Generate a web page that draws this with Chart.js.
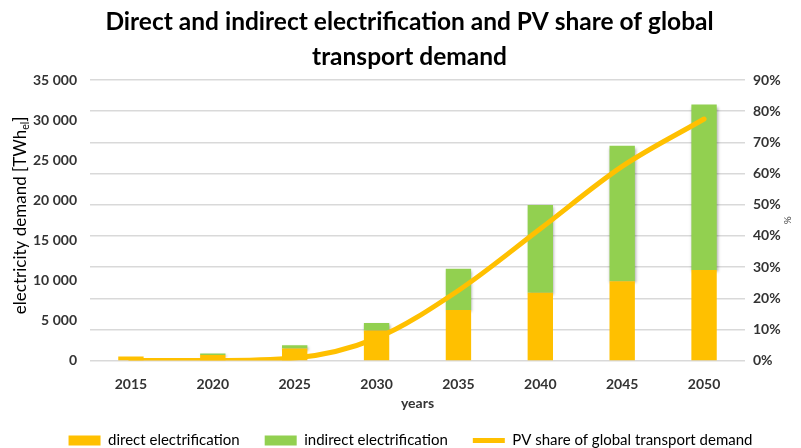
<!DOCTYPE html>
<html>
<head>
<meta charset="utf-8">
<script src="https://cdn.jsdelivr.net/npm/chart.js@4.4.1/dist/chart.umd.min.js"></script>
<style>
  html, body { margin: 0; padding: 0; background: #fff; }
  #wrap { width: 801px; height: 448px; }
</style>
</head>
<body>
<div id="wrap"><canvas id="chart"></canvas></div>
<script>
// données
const years = ['2015', '2020', '2025', '2030', '2035', '2040', '2045', '2050'];
const directElec = [500, 700, 1500, 3750, 6300, 8450, 9900, 11300];
const indirectElec = [0, 200, 400, 950, 5150, 10950, 16900, 20650];
const pvShare = [0, 0, 0.8, 7.2, 22.5, 42.3, 62.3, 77.5];
const leftTicks = [0, 5000, 10000, 15000, 20000, 25000, 30000, 35000];

const ORANGE = '#FFC000';
const GREEN = '#92D050';
const FONT = 'Lato, "Open Sans", sans-serif';

// titre de l'axe gauche avec indice "el" + titre "%" à droite
const axisTitles = {
    id: 'axisTitles',
    afterDraw(chart) {
        const ctx = chart.ctx;
        const area = chart.chartArea;
        ctx.save();
        ctx.translate(21, (area.top + area.bottom) / 2 - 5);
        ctx.rotate(-Math.PI / 2);
        ctx.fillStyle = '#000';
        ctx.textBaseline = 'middle';
        const main = 'electricity demand [TWh';
        ctx.font = '17px ' + FONT;
        const w1 = ctx.measureText(main).width;
        ctx.font = '10.5px ' + FONT;
        const w2 = ctx.measureText('el').width;
        ctx.font = '17px ' + FONT;
        const w3 = ctx.measureText(']').width;
        let x = -(w1 + w2 + w3) / 2;
        ctx.textAlign = 'left';
        ctx.fillText(main, x, 0);
        x += w1;
        ctx.font = '10.5px ' + FONT;
        ctx.fillText('el', x, 5);
        x += w2;
        ctx.font = '17px ' + FONT;
        ctx.fillText(']', x, 0);
        ctx.restore();

        ctx.save();
        ctx.translate(787, (area.top + area.bottom) / 2);
        ctx.rotate(Math.PI / 2);
        ctx.font = '10px ' + FONT;
        ctx.fillStyle = '#404040';
        ctx.textAlign = 'center';
        ctx.textBaseline = 'middle';
        ctx.fillText('%', 0, 0);
        ctx.restore();
    }
};

// décale un peu le titre et la légende vers la droite, comme sur l'original
const shiftBoxes = {
    id: 'shiftBoxes',
    afterLayout(chart) {
        if (chart.titleBlock) {
            chart.titleBlock.left += 9;
            chart.titleBlock.right += 9;
        }
        if (chart.legend) {
            chart.legend.left += 10;
            chart.legend.right += 10;
        }
    }
};

// ombre légère sous la courbe
const lineShadow = {
    id: 'lineShadow',
    beforeDatasetDraw(chart, args) {
        if (args.index !== 2) return;
        const ctx = chart.ctx;
        ctx.save();
        ctx.shadowColor = 'rgba(0,0,0,0.35)';
        ctx.shadowBlur = 3;
        ctx.shadowOffsetX = 1;
        ctx.shadowOffsetY = 2;
    },
    afterDatasetDraw(chart, args) {
        if (args.index !== 2) return;
        chart.ctx.restore();
    }
};

new Chart(document.getElementById('chart'), {
    data: {
        labels: years,
        datasets: [
            {
                type: 'line',
                label: 'PV share of global transport demand',
                data: pvShare,
                yAxisID: 'y1',
                borderColor: ORANGE,
                backgroundColor: ORANGE,
                borderWidth: 5,
                borderCapStyle: 'round',
                pointRadius: 0,
                pointStyle: 'line',
                cubicInterpolationMode: 'monotone',
                order: 0
            },
            {
                type: 'bar',
                label: 'direct electrification',
                data: directElec,
                yAxisID: 'y',
                backgroundColor: ORANGE,
                pointStyle: 'rect',
                categoryPercentage: 1,
                barPercentage: 0.31,
                order: 1
            },
            {
                type: 'bar',
                label: 'indirect electrification',
                data: indirectElec,
                yAxisID: 'y',
                backgroundColor: GREEN,
                pointStyle: 'rect',
                categoryPercentage: 1,
                barPercentage: 0.31,
                order: 1
            }
        ]
    },
    options: {
        responsive: true,
        maintainAspectRatio: false,
        animation: false,
        layout: { padding: { left: 0, right: 0, top: 0, bottom: -10 } },
        plugins: {
            title: {
                display: true,
                text: ['Direct and indirect electrification and PV share of global', 'transport demand'],
                font: { family: FONT, size: 24.5, weight: 'bold', lineHeight: 1.43 },
                color: '#000',
                padding: { top: 5, bottom: 5 }
            },
            legend: {
                position: 'bottom',
                labels: {
                    usePointStyle: true,
                    pointStyleWidth: 32,
                    boxHeight: 10,
                    padding: 25,
                    color: '#000',
                    font: { family: FONT, size: 15 },
                    sort: (a, b) => {
                        const rank = [2, 0, 1];
                        return rank[a.datasetIndex] - rank[b.datasetIndex];
                    }
                }
            },
            tooltip: { enabled: false }
        },
        scales: {
            x: {
                stacked: true,
                grid: { display: false, drawTicks: false },
                border: { display: false },
                afterFit: (scale) => { scale.height = 47.4; },
                ticks: { color: '#333', font: { family: FONT, size: 14, weight: 'bold' }, padding: 15 },
                title: { display: true, text: 'years', color: '#333', font: { family: FONT, size: 14, weight: 'bold' }, padding: { top: 0, bottom: -4 } }
            },
            y: {
                stacked: true,
                position: 'left',
                min: 0,
                max: 35000,
                grid: { display: false },
                border: { display: false },
                afterBuildTicks: (scale) => { scale.ticks = leftTicks.map(v => ({ value: v })); },
                afterFit: (scale) => { scale.width = 90; },
                ticks: {
                    color: '#333',
                    padding: 5,
                    font: { family: FONT, size: 14, weight: 'bold' },
                    callback: (v) => v === 0 ? '0' : (v / 1000) + ' 000'
                }
            },
            y1: {
                position: 'right',
                min: 0,
                max: 90,
                grid: { color: '#D9D9D9', lineWidth: 1.5, drawTicks: false },
                border: { display: false },
                afterFit: (scale) => { scale.width = 56; },
                ticks: {
                    stepSize: 10,
                    color: '#333',
                    padding: 8,
                    font: { family: FONT, size: 14, weight: 'bold' },
                    callback: (v) => v + '%'
                }
            }
        }
    },
    plugins: [axisTitles, shiftBoxes, lineShadow]
});
</script>
</body>
</html>
